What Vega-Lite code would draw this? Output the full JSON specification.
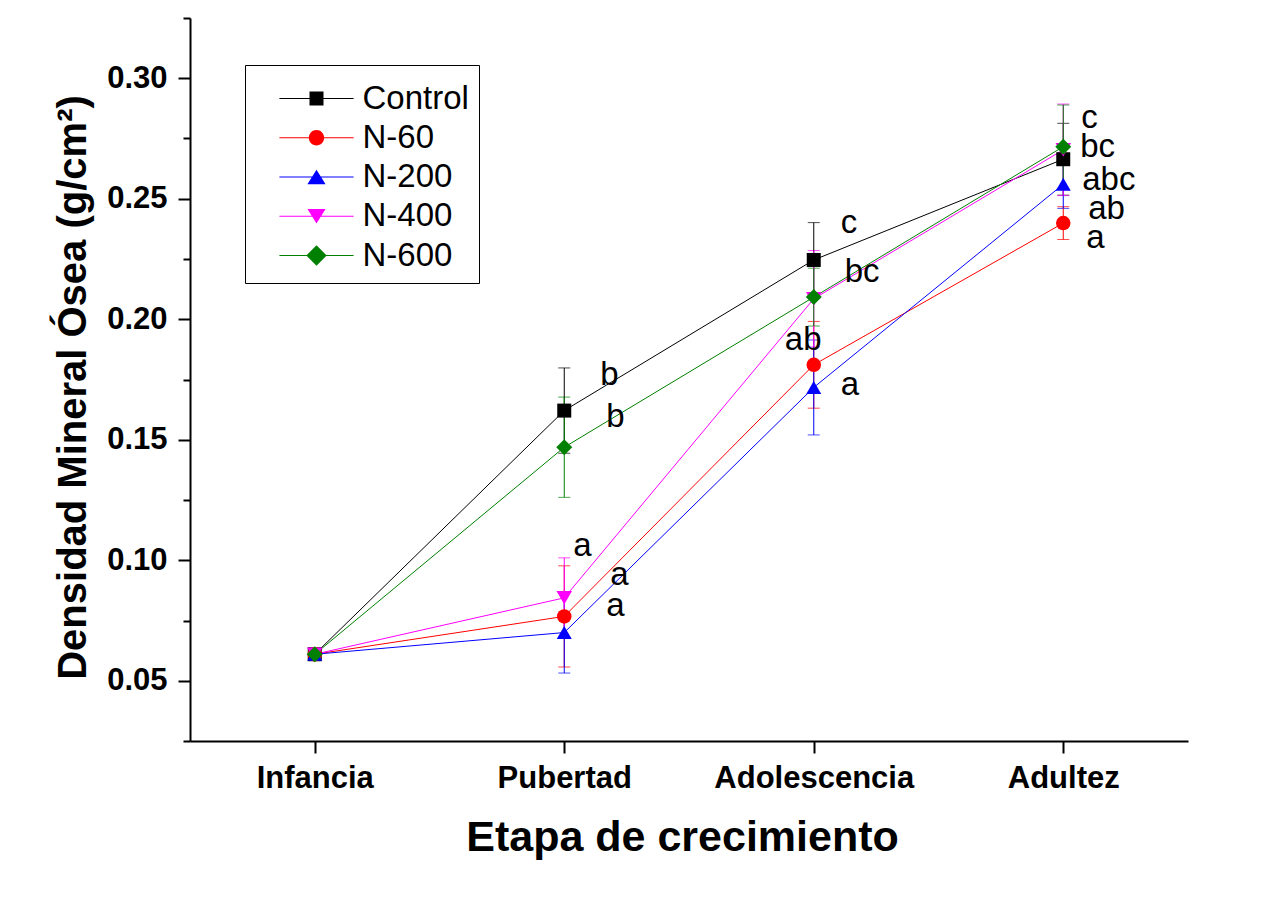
{
  "$schema": "https://vega.github.io/schema/vega-lite/v6.json",
  "width": 998,
  "height": 723,
  "autosize": {"type": "none"},
  "padding": {"left": 190, "top": 18, "right": 74, "bottom": 173},
  "background": "white",
  "config": {
    "view": {"stroke": null},
    "font": "Liberation Sans",
    "axis": {"grid": false, "domainColor": "black", "tickColor": "black", "labelColor": "black", "titleColor": "black"}
  },
  "datasets": {
    "dmo": [
      {"etapa": "Infancia", "i": 0, "serie": "Control", "dmo": 0.061, "de": 0.002},
      {"etapa": "Infancia", "i": 0, "serie": "N-60", "dmo": 0.061, "de": 0.002},
      {"etapa": "Infancia", "i": 0, "serie": "N-200", "dmo": 0.061, "de": 0.002},
      {"etapa": "Infancia", "i": 0, "serie": "N-400", "dmo": 0.061, "de": 0.002},
      {"etapa": "Infancia", "i": 0, "serie": "N-600", "dmo": 0.061, "de": 0.002},
      {"etapa": "Pubertad", "i": 1, "serie": "Control", "dmo": 0.1621, "de": 0.0177},
      {"etapa": "Pubertad", "i": 1, "serie": "N-60", "dmo": 0.0767, "de": 0.021},
      {"etapa": "Pubertad", "i": 1, "serie": "N-200", "dmo": 0.070, "de": 0.0168},
      {"etapa": "Pubertad", "i": 1, "serie": "N-400", "dmo": 0.0844, "de": 0.0166},
      {"etapa": "Pubertad", "i": 1, "serie": "N-600", "dmo": 0.1469, "de": 0.0208},
      {"etapa": "Adolescencia", "i": 2, "serie": "Control", "dmo": 0.2246, "de": 0.0155},
      {"etapa": "Adolescencia", "i": 2, "serie": "N-60", "dmo": 0.1811, "de": 0.018},
      {"etapa": "Adolescencia", "i": 2, "serie": "N-200", "dmo": 0.1717, "de": 0.0197},
      {"etapa": "Adolescencia", "i": 2, "serie": "N-400", "dmo": 0.2085, "de": 0.020},
      {"etapa": "Adolescencia", "i": 2, "serie": "N-600", "dmo": 0.2092, "de": 0.012},
      {"etapa": "Adultez", "i": 3, "serie": "Control", "dmo": 0.2664, "de": 0.0149},
      {"etapa": "Adultez", "i": 3, "serie": "N-60", "dmo": 0.2399, "de": 0.0068},
      {"etapa": "Adultez", "i": 3, "serie": "N-200", "dmo": 0.256, "de": 0.010},
      {"etapa": "Adultez", "i": 3, "serie": "N-400", "dmo": 0.2703, "de": 0.019},
      {"etapa": "Adultez", "i": 3, "serie": "N-600", "dmo": 0.2716, "de": 0.0173}
    ],
    "letras": [
      {"x": 1.144, "y": 0.1728, "letra": "b"},
      {"x": 1.168, "y": 0.1554, "letra": "b"},
      {"x": 1.036, "y": 0.1016, "letra": "a"},
      {"x": 1.184, "y": 0.0898, "letra": "a"},
      {"x": 1.168, "y": 0.0767, "letra": "a"},
      {"x": 2.108, "y": 0.2357, "letra": "c"},
      {"x": 2.124, "y": 0.2156, "letra": "bc"},
      {"x": 1.884, "y": 0.1873, "letra": "ab"},
      {"x": 2.108, "y": 0.1686, "letra": "a"},
      {"x": 3.072, "y": 0.2793, "letra": "c"},
      {"x": 3.068, "y": 0.2675, "letra": "bc"},
      {"x": 3.076, "y": 0.2537, "letra": "abc"},
      {"x": 3.100, "y": 0.2416, "letra": "ab"},
      {"x": 3.092, "y": 0.2295, "letra": "a"}
    ]
  },
  "layer": [
    {
      "data": {"name": "dmo"},
      "mark": {"type": "line", "strokeWidth": 1},
      "encoding": {
        "x": {
          "field": "i", "type": "quantitative",
          "scale": {"domain": [-0.5, 3.5], "nice": false, "zero": false},
          "axis": {
            "values": [0, 1, 2, 3],
            "labelExpr": "['Infancia','Pubertad','Adolescencia','Adultez'][datum.value]",
            "labelFont": "Liberation Sans", "labelFontSize": 31, "labelFontWeight": "bold", "labelLimit": 0,
            "tickSize": 12, "tickWidth": 2, "domainWidth": 2, "labelPadding": 10,
            "title": "Etapa de crecimiento", "titleFont": "Liberation Sans", "titleFontSize": 43, "titleFontWeight": "bold",
            "titleBaseline": "alphabetic", "titleY": 109, "titleX": 492
          }
        },
        "y": {
          "field": "dmo", "type": "quantitative",
          "scale": {"domain": [0.025, 0.325], "nice": false, "zero": false},
          "axis": {
            "values": [0.05, 0.1, 0.15, 0.2, 0.25, 0.3], "format": ".2f",
            "labelFont": "Liberation Sans", "labelFontSize": 31, "labelFontWeight": "bold",
            "tickSize": 12, "tickWidth": 2, "domainWidth": 2, "labelPadding": 11,
            "title": "Densidad Mineral Ósea (g/cm²)", "titleFont": "Liberation Sans", "titleFontSize": 40, "titleFontWeight": "bold",
            "titleBaseline": "alphabetic", "titleX": -105, "titleY": 369, "titleLimit": 0
          }
        },
        "color": {
          "field": "serie", "type": "nominal", "legend": null,
          "scale": {"domain": ["Control", "N-60", "N-200", "N-400", "N-600"], "range": ["#000000", "#ff0000", "#0000ff", "#ff00ff", "#008000"]}
        },
        "order": {"field": "i"}
      }
    },
    {
      "data": {"name": "dmo"},
      "mark": {"type": "errorbar", "ticks": {"size": 12, "thickness": 1}, "rule": {"strokeWidth": 1}},
      "encoding": {
        "x": {"field": "i", "type": "quantitative"},
        "y": {"field": "dmo", "type": "quantitative", "axis": null},
        "yError": {"field": "de"},
        "color": {
          "field": "serie", "type": "nominal", "legend": null,
          "scale": {"domain": ["Control", "N-60", "N-200", "N-400", "N-600"], "range": ["#000000", "#ff0000", "#0000ff", "#ff00ff", "#008000"]}
        }
      }
    },
    {
      "data": {"name": "dmo"},
      "mark": {"type": "point", "filled": true, "opacity": 1, "strokeWidth": 0},
      "encoding": {
        "x": {"field": "i", "type": "quantitative"},
        "y": {"field": "dmo", "type": "quantitative", "axis": null},
        "color": {
          "field": "serie", "type": "nominal", "legend": null,
          "scale": {"domain": ["Control", "N-60", "N-200", "N-400", "N-600"], "range": ["#000000", "#ff0000", "#0000ff", "#ff00ff", "#008000"]}
        },
        "shape": {
          "field": "serie", "type": "nominal", "legend": null,
          "scale": {"domain": ["Control", "N-60", "N-200", "N-400", "N-600"], "range": ["square", "circle", "triangle-up", "triangle-down", "diamond"]}
        },
        "size": {
          "field": "serie", "type": "nominal", "legend": null,
          "scale": {"domain": ["Control", "N-60", "N-200", "N-400", "N-600"], "range": [196, 256, 330, 330, 430]}
        },
        "order": {"field": "i"}
      }
    },
    {
      "data": {"name": "dmo"},
      "transform": [{"filter": "false"}],
      "mark": {"type": "point", "filled": true, "opacity": 1, "strokeWidth": 0},
      "encoding": {
        "x": {"field": "i", "type": "quantitative"},
        "y": {"field": "dmo", "type": "quantitative", "axis": null},
        "color": {
          "field": "serie", "type": "nominal",
          "scale": {"domain": ["Control", "N-60", "N-200", "N-400", "N-600"], "range": ["#000000", "#ff0000", "#0000ff", "#ff00ff", "#008000"]},
          "legend": {
            "title": " ", "titleFontSize": 5, "titlePadding": 2, "orient": "none", "legendX": 55, "legendY": 47, "direction": "vertical",
            "symbolSize": 196, "symbolStrokeWidth": 0, "symbolOffset": 45, "symbolOpacity": 1,
            "labelFont": "Liberation Sans", "labelFontSize": 33, "labelOffset": 29.5, "labelColor": "black",
            "rowPadding": 5.25, "padding": 10, "strokeColor": "black", "fillColor": "white"
          }
        },
        "shape": {
          "field": "serie", "type": "nominal",
          "scale": {"domain": ["Control", "N-60", "N-200", "N-400", "N-600"], "range": [
            "M-5.3,-0.08H5.3V0.08H-5.3ZM-1,-1H1V1H-1Z",
            "M-5.3,-0.08H5.3V0.08H-5.3ZM-1.1,0A1.1,1.1,0,1,1,1.1,0A1.1,1.1,0,1,1,-1.1,0Z",
            "M-5.3,-0.08H5.3V0.08H-5.3ZM0,-1.05L1.3,1.05H-1.3Z",
            "M-5.3,-0.08H5.3V0.08H-5.3ZM0,1.05L-1.3,-1.05H1.3Z",
            "M-5.3,-0.08H5.3V0.08H-5.3ZM0,-1.45L1.45,0L0,1.45L-1.45,0Z"
          ]},
          "legend": {
            "title": " ", "titleFontSize": 5, "titlePadding": 2, "orient": "none", "legendX": 55, "legendY": 47, "direction": "vertical",
            "symbolSize": 196, "symbolStrokeWidth": 0, "symbolOffset": 45, "symbolOpacity": 1,
            "labelFont": "Liberation Sans", "labelFontSize": 33, "labelOffset": 29.5, "labelColor": "black",
            "rowPadding": 5.25, "padding": 10, "strokeColor": "black", "fillColor": "white"
          }
        }
      }
    },
    {
      "data": {"name": "letras"},
      "mark": {"type": "text", "align": "left", "baseline": "alphabetic", "font": "Liberation Sans", "fontSize": 33, "color": "black"},
      "encoding": {
        "x": {"field": "x", "type": "quantitative"},
        "y": {
          "field": "y", "type": "quantitative",
          "axis": {
            "orient": "left", "values": [0.025, 0.075, 0.125, 0.175, 0.225, 0.275, 0.325],
            "labels": false, "domain": false, "tickSize": 7, "tickWidth": 2, "title": null
          }
        },
        "text": {"field": "letra"}
      }
    }
  ],
  "resolve": {"scale": {"color": "independent", "shape": "independent", "size": "independent"}, "axis": {"y": "independent"}}
}
